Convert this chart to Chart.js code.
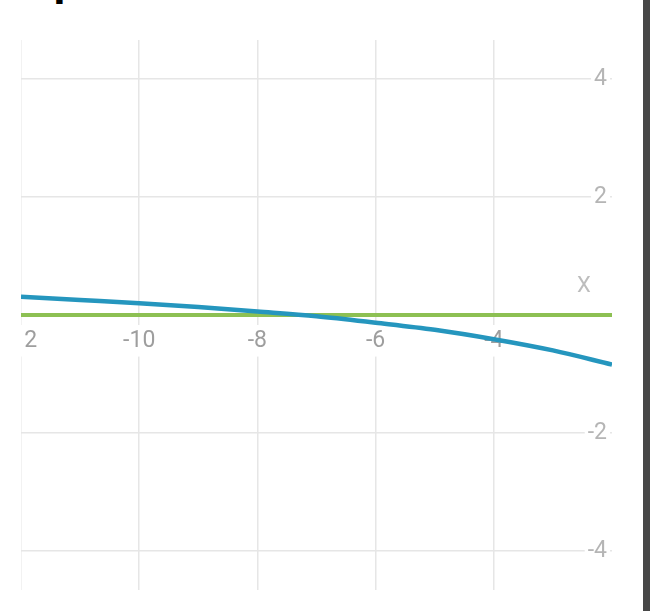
<!DOCTYPE html>
<html>
<head>
<meta charset="utf-8">
<script src="https://cdn.jsdelivr.net/npm/chart.js"></script>
<style>
  html, body { margin: 0; padding: 0; background: #fff; }
  #wrap { position: relative; width: 650px; height: 611px; overflow: hidden; background: #fff; }
  #chartBox { position: absolute; left: 21px; top: 0; width: 622px; height: 611px; }
  #edge { position: absolute; left: 643px; top: 0; width: 7px; height: 611px; background: #474747; }
  #title { position: absolute; left: 53px; top: -49px; font: bold 46px "Liberation Sans", Arial, sans-serif; color: #000; }
  #axisName { position: absolute; left: 577px; top: 272px; font: 22px Roboto, sans-serif; color: #bdbdbd; }
</style>
</head>
<body>
<div id="wrap">
  <div id="title">p</div>
  <div id="chartBox"><canvas id="graph"></canvas></div>
  <div id="axisName">X</div>
  <div id="edge"></div>
</div>
<script>
const xValues = [-12, -11, -10, -9, -8, -7, -6, -5, -4, -3, -2];
const curveValues = [0.31, 0.255, 0.2, 0.135, 0.06, -0.02, -0.13, -0.25, -0.41, -0.6, -0.84];
const flatX = [-12, -2];
const flatValues = [0, 0];
const xTicks = [-12, -10, -8, -6, -4, -2];
const yTicks = [-4, -2, 0, 2, 4];

const gridColor = '#e6e6e6';

new Chart(document.getElementById('graph'), {
  type: 'line',
  data: {
    datasets: [
      {
        data: xValues.map((x, i) => ({ x: x, y: curveValues[i] })),
        borderColor: '#2596be',
        borderWidth: 4.5,
        pointRadius: 0,
        cubicInterpolationMode: 'monotone',
        fill: false
      },
      {
        data: flatX.map((x, i) => ({ x: x, y: flatValues[i] })),
        borderColor: '#8dc053',
        borderWidth: 4,
        pointRadius: 0,
        fill: false
      }
    ]
  },
  options: {
    responsive: true,
    maintainAspectRatio: false,
    animation: false,
    layout: { padding: { left: 0, top: 40, right: 31, bottom: 21 } },
    plugins: { legend: { display: false }, tooltip: { enabled: false } },
    scales: {
      x: {
        type: 'linear',
        min: -12,
        max: -2,
        position: { y: 0 },
        afterBuildTicks: s => { s.ticks = xTicks.map(v => ({ value: v })); },
        afterFit: s => { s.paddingLeft = 0; s.paddingRight = 0; },
        grid: { color: gridColor, lineWidth: 1.5, drawTicks: false },
        border: { display: false },
        ticks: {
          autoSkip: false,
          maxRotation: 0,
          padding: 12,
          color: '#9e9e9e',
          font: { family: 'Roboto', size: 23 },
          showLabelBackdrop: true,
          backdropColor: '#fff',
          backdropPadding: { x: 3, y: 2 },
          callback: v => v === -2 ? null : String(v)
        }
      },
      y: {
        type: 'linear',
        min: -4.66,
        max: 4.66,
        position: 'right',
        afterBuildTicks: s => { s.ticks = yTicks.map(v => ({ value: v })); },
        afterFit: s => { s.width = 0; s.paddingTop = 0; s.paddingBottom = 0; },
        grid: { color: gridColor, lineWidth: 1.5, drawTicks: false },
        border: { display: false },
        ticks: {
          mirror: true,
          padding: -5,
          color: '#b5b5b5',
          font: { family: 'Roboto', size: 23 },
          showLabelBackdrop: true,
          backdropColor: '#fff',
          backdropPadding: { x: 3, y: 2 },
          callback: v => v === 0 ? null : String(v)
        }
      }
    }
  }
});
</script>
</body>
</html>
